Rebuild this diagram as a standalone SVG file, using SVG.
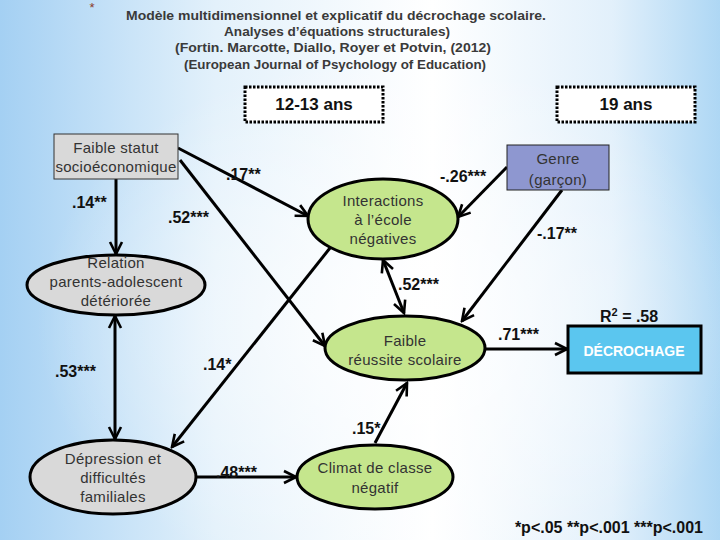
<svg xmlns="http://www.w3.org/2000/svg" width="720" height="540" viewBox="0 0 720 540">
<defs>
<linearGradient id="bg" x1="0" y1="0" x2="1" y2="0">
<stop offset="0" stop-color="#a4d0f3"/>
<stop offset="0.3" stop-color="#e3f1fb"/>
<stop offset="0.6" stop-color="#ffffff"/>
<stop offset="0.85" stop-color="#e2f0fb"/>
<stop offset="1" stop-color="#aed7f4"/>
</linearGradient>
<radialGradient id="glow" cx="0.55" cy="0.6" r="0.5">
<stop offset="0" stop-color="#ffffff" stop-opacity="0.8"/>
<stop offset="1" stop-color="#ffffff" stop-opacity="0"/>
</radialGradient>
<marker id="arr" markerUnits="userSpaceOnUse" markerWidth="16" markerHeight="16" viewBox="0 0 16 16" refX="14" refY="8" orient="auto-start-reverse">
<path d="M2,2 L14,8 L2,14" fill="none" stroke="#000" stroke-width="2.6" stroke-linejoin="miter"/>
</marker>
<style>
.title{font-family:"Liberation Sans",Arial,sans-serif;font-weight:bold;font-size:13px;fill:#3a3a3a;text-anchor:middle}
.node{font-family:"Liberation Sans",Arial,sans-serif;font-size:15px;fill:#333;text-anchor:middle;letter-spacing:0.3px}
.coef{font-family:"Liberation Sans",Arial,sans-serif;font-weight:bold;font-size:16px;fill:#111}
.age{font-family:"Liberation Sans",Arial,sans-serif;font-weight:bold;font-size:17px;fill:#111;text-anchor:middle}
.conn{stroke:#000;stroke-width:3;fill:none}
.ell{stroke:#000;stroke-width:3}
.green{fill:#c5e68d}
.gray{fill:#d9d9d9}
.dash{fill:#fff;stroke:#000;stroke-width:3;stroke-dasharray:2.5 1.5}
</style>
</defs>
<rect width="720" height="540" fill="url(#bg)"/>
<rect width="720" height="540" fill="url(#glow)"/>

<text x="92" y="12" font-family="Liberation Sans, Arial, sans-serif" font-size="13" fill="#8b3a2a" text-anchor="middle">*</text>
<g id="title">
<text class="title" x="336" y="20" textLength="420" lengthAdjust="spacingAndGlyphs">Modèle  multidimensionnel et explicatif du décrochage scolaire.</text>
<text class="title" x="337" y="36" textLength="226" lengthAdjust="spacingAndGlyphs">Analyses d’équations structurales)</text>
<text class="title" x="333" y="52" textLength="316" lengthAdjust="spacingAndGlyphs">(Fortin. Marcotte, Diallo, Royer et Potvin, (2012)</text>
<text class="title" x="335" y="69" textLength="302" lengthAdjust="spacingAndGlyphs">(European Journal of Psychology of Education)</text>
</g>

<g id="age1213"><rect class="dash" x="245" y="87" width="138" height="35"/><text class="age" x="314" y="110">12-13 ans</text></g>
<g id="age19"><rect class="dash" x="557" y="87" width="138" height="35"/><text class="age" x="626" y="110">19 ans</text></g>

<g id="connectors">
<path class="conn" d="M178,148 L308,216" marker-end="url(#arr)"/>
<path class="conn" d="M116,179 L116,254" marker-end="url(#arr)"/>
<path class="conn" d="M180,160 L325,346" marker-end="url(#arr)"/>
<path class="conn" d="M330,248 L172,447" marker-end="url(#arr)"/>
<path class="conn" d="M115,316 L115,439" marker-start="url(#arr)" marker-end="url(#arr)"/>
<path class="conn" d="M383,260 L404,313" marker-start="url(#arr)" marker-end="url(#arr)"/>
<path class="conn" d="M507,167 L458,217" marker-end="url(#arr)"/>
<path class="conn" d="M562,190 L462,321" marker-end="url(#arr)"/>
<path class="conn" d="M485,349 L567,349" marker-end="url(#arr)"/>
<path class="conn" d="M197,477 L296,477" marker-end="url(#arr)"/>
<path class="conn" d="M375,443 L407,383" marker-end="url(#arr)"/>
</g>

<g id="coefs">
<text class="coef" x="226" y="180">.17**</text>
<text class="coef" x="72" y="208">.14**</text>
<text class="coef" x="168" y="223">.52***</text>
<text class="coef" x="440" y="182">-.26***</text>
<text class="coef" x="537" y="239">-.17**</text>
<text class="coef" x="398" y="290">.52***</text>
<text class="coef" x="55" y="377">.53***</text>
<text class="coef" x="203" y="370">.14*</text>
<text class="coef" x="498" y="340">.71***</text>
<text class="coef" x="352" y="434">.15*</text>
<text class="coef" x="216" y="478">.48***</text>
<text class="coef" x="600" y="322">R<tspan font-size="11" dy="-6">2</tspan><tspan dy="6"> = .58</tspan></text>
</g>

<g id="faible-statut">
<rect x="54" y="134" width="124" height="45" fill="#d9d9d9" stroke="#333" stroke-width="1"/>
<text class="node" x="116" y="153">Faible statut</text>
<text class="node" x="116" y="172">socioéconomique</text>
</g>

<g id="genre">
<rect x="507" y="145" width="102" height="45" fill="#8e97d0" stroke="#222" stroke-width="1"/>
<text class="node" x="558" y="164" font-size="16" fill="#1e1e3a">Genre</text>
<text class="node" x="558" y="185" font-size="16" fill="#1e1e3a">(garçon)</text>
</g>

<g id="relation">
<ellipse class="ell gray" cx="116" cy="285" rx="89" ry="30"/>
<text class="node" x="116" y="268">Relation</text>
<text class="node" x="116" y="287">parents-adolescent</text>
<text class="node" x="116" y="306">détériorée</text>
</g>

<g id="interactions">
<ellipse class="ell green" cx="383" cy="219" rx="75" ry="40"/>
<text class="node" x="383" y="206">Interactions</text>
<text class="node" x="383" y="225">à l’école</text>
<text class="node" x="383" y="244">négatives</text>
</g>

<g id="reussite">
<ellipse class="ell green" cx="405" cy="348" rx="80" ry="32"/>
<text class="node" x="405" y="346">Faible</text>
<text class="node" x="405" y="365">réussite scolaire</text>
</g>

<g id="depression">
<ellipse class="ell gray" cx="113" cy="477" rx="83" ry="37"/>
<text class="node" x="113" y="464">Dépression et</text>
<text class="node" x="113" y="483">difficultés</text>
<text class="node" x="113" y="502">familiales</text>
</g>

<g id="climat">
<ellipse class="ell green" cx="375" cy="477" rx="78" ry="32"/>
<text class="node" x="375" y="473">Climat de classe</text>
<text class="node" x="375" y="493">négatif</text>
</g>

<g id="decrochage">
<rect x="568" y="326" width="133" height="47" fill="#5bc6ef" stroke="#000" stroke-width="3"/>
<text x="634" y="356" font-family="Liberation Sans, Arial, sans-serif" font-weight="bold" font-size="14" fill="#fff" text-anchor="middle">DÉCROCHAGE</text>
</g>

<text class="coef" x="703" y="533" font-size="17" text-anchor="end">*p&lt;.05 **p&lt;.001 ***p&lt;.001</text>
</svg>
